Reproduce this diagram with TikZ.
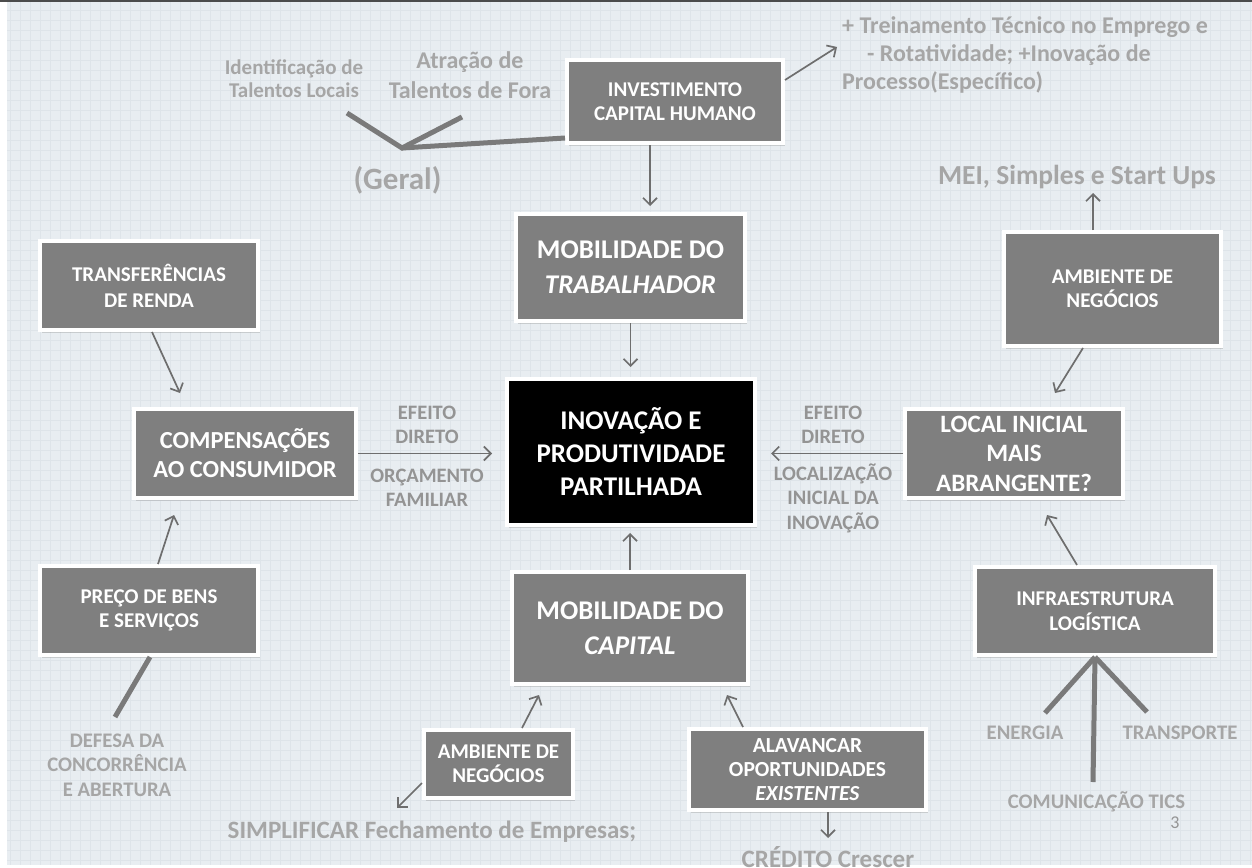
\documentclass[tikz,border=0pt]{standalone}
\usepackage{fontspec}
\setmainfont{Carlito}
\usetikzlibrary{shadows,arrows.meta}
\definecolor{bgc}{HTML}{E8EDF1}
\definecolor{gridc}{HTML}{DEE4E9}
\definecolor{boxg}{HTML}{7F7F7F}
\definecolor{lblc}{HTML}{A6A6A6}
\definecolor{lbld}{HTML}{949494}
\definecolor{arrc}{HTML}{6E6E6E}
\definecolor{thkc}{HTML}{7A7A7A}
\newcommand{\fsz}[2]{\fontsize{#1}{#2}\selectfont}
\tikzset{
  boxbase/.style={fill=boxg, draw=white, line width=4pt, text=white, align=center, inner sep=0pt,
    drop shadow={shadow xshift=2pt, shadow yshift=-3pt, opacity=0.3}},
  sbox/.style={boxbase, font=\fsz{21}{24.5}\bfseries},
  bbox/.style={boxbase, font=\fsz{27}{35}\bfseries},
  arr/.style={draw=arrc, line width=1.7pt, -{Straight Barb[length=7pt,width=14pt,line width=1.7pt]}},
  thk/.style={draw=thkc, line width=5pt},
  lbl/.style={text=lblc, align=center, inner sep=0pt, font=\fsz{20.7}{24.5}\bfseries},
  lbd/.style={text=lbld, align=center, inner sep=0pt, font=\fsz{20.5}{24.5}\bfseries},
}
\begin{document}
\begin{tikzpicture}[x=1pt,y=-1pt]
\useasboundingbox (0,0) rectangle (1252,867);
% background
\fill[white] (0,0) rectangle (1252,867);
\fill[bgc] (7,0) rectangle (1252,865);
\foreach \i in {10,20,...,1250} {\draw[gridc, line width=0.6pt] (\i,0) -- (\i,865);}
\foreach \j in {10,20,...,860} {\draw[gridc, line width=0.6pt] (7,\j) -- (1252,\j);}
\fill[black!70] (0,0) rectangle (1252,2);

% boxes
\node[sbox, minimum width=216pt, minimum height=83pt] (inv) at (675,101.5) {INVESTIMENTO\\CAPITAL HUMANO};
\node[bbox, minimum width=229pt, minimum height=107pt] (mobT) at (630.5,267.5) {MOBILIDADE DO\\\textit{TRABALHADOR}};
\node[sbox, minimum width=218pt, minimum height=89pt, font=\fsz{21}{26}\bfseries] (transf) at (149,285.5) {TRANSFER\^ENCIAS\\DE RENDA};
\node[sbox, minimum width=217pt, minimum height=114pt] (ambR) at (1112.5,289) {AMBIENTE DE\\NEG\'OCIOS};
\node[bbox, minimum width=222pt, minimum height=89pt, font=\fsz{24.5}{29}\bfseries] (comp) at (245,453.5) {COMPENSAÇÕES\\AO CONSUMIDOR};
\node[bbox, fill=black, minimum width=248pt, minimum height=146pt, font=\fsz{27}{33}\bfseries] (inov) at (631,452) {INOVAÇÃO E\\PRODUTIVIDADE\\PARTILHADA};
\node[bbox, minimum width=218pt, minimum height=89pt, font=\fsz{25}{29.5}\bfseries] (local) at (1014,453.5) {LOCAL INICIAL\\MAIS\\ABRANGENTE?};
\node[sbox, minimum width=218pt, minimum height=89pt] (preco) at (149,610.5) {PREÇO DE BENS\\E SERVIÇOS};
\node[bbox, minimum width=236pt, minimum height=112pt] (mobC) at (630,628) {MOBILIDADE DO\\\textit{CAPITAL}};
\node[sbox, minimum width=240pt, minimum height=88pt] (infra) at (1095,611) {INFRAESTRUTURA\\LOG\'ISTICA};
\node[sbox, minimum width=149pt, minimum height=68pt] (ambB) at (498.5,764) {AMBIENTE DE\\NEG\'OCIOS};
\node[sbox, minimum width=237pt, minimum height=81pt, font=\fsz{21.5}{24}\bfseries] (alav) at (807.5,769.5) {ALAVANCAR\\OPORTUNIDADES\\\textit{EXISTENTES}};

% labels
\node[lbl, font=\fsz{21}{23}\bfseries] (idt) at (294,79) {Identificação de\\Talentos Locais};
\node[lbl, font=\fsz{24}{30}\bfseries] (atr) at (470,75) {Atração de\\Talentos de Fora};
\node[lbl, font=\fsz{31}{34}\bfseries] (geral) at (397.5,180) {(Geral)};
\node[lbl, font=\fsz{24}{28}\bfseries, align=left, anchor=north west] (trein) at (842,16)
  {+ Treinamento Técnico no Emprego e\\\hspace*{25pt}- Rotatividade; +Inovação de\\Processo(Específico)};
\node[lbl, font=\fsz{27.5}{30}\bfseries] (mei) at (1077,177) {MEI, Simples e Start Ups};
\node[lbd] (efL) at (427,425) {EFEITO\\DIRETO};
\node[lbd] (orc) at (427,488) {ORÇAMENTO\\FAMILIAR};
\node[lbd] (efR) at (833,425) {EFEITO\\DIRETO};
\node[lbd] (locz) at (833,498) {LOCALIZAÇÃO\\INICIAL DA\\INOVAÇÃO};
\node[lbl] (defesa) at (117,765) {DEFESA DA\\CONCORRÊNCIA\\E ABERTURA};
\node[lbl, font=\fsz{25}{28}\bfseries] (simp) at (432,832) {SIMPLIFICAR Fechamento de Empresas;};
\node[lbl, font=\fsz{25}{28}\bfseries] (cred) at (828,857) {CRÉDITO Crescer};
\node[lbl] (energia) at (1025,733) {ENERGIA};
\node[lbl] (transp) at (1180,733) {TRANSPORTE};
\node[lbl] (comun) at (1096.5,802) {COMUNICAÇÃO TICS};
\node[text=lbld, inner sep=0pt, font=\fsz{18}{22}] (pnum) at (1175,823) {3};

% free ends
\coordinate (armL) at (347,113);
\coordinate (vtx) at (402,148);
\coordinate (armR) at (462,117);
\coordinate (defA) at (115,717);
\coordinate (enA) at (1045,713);
\coordinate (coA) at (1093,782);
\coordinate (trA) at (1147,712);
\coordinate (treinA) at (837,47);
\coordinate (meiA) at (1093,193);
\coordinate (simpA) at (397,808);

% thick lines
\draw[thk] (armL) -- (vtx) -- (armR);
\draw[thk] (vtx) -- ([yshift=-36.5pt]inv.west);
\draw[thk] ([xshift=1pt]preco.south) -- (defA);
\draw[thk] (infra.south) -- (enA);
\draw[thk] (infra.south) -- (coA);
\draw[thk] (infra.south) -- (trA);

% arrows
\draw[arr] ([xshift=-25pt]inv.south) -- ([xshift=19.5pt,yshift=6pt]mobT.north);
\draw[arr] ([yshift=21.5pt]inv.east) -- (treinA);
\draw[arr] (mobT.south) -- ([yshift=10pt]mobT.south |- inov.north);
\draw[arr] (mobC.north) -- ([yshift=-6pt]mobC.north |- inov.south);
\draw[arr] (comp.east) -- ([xshift=-13pt]inov.west |- comp.east);
\draw[arr] (local.west) -- ([xshift=14pt]inov.east |- local.west);
\draw[arr] ([xshift=3pt]transf.south) -- ([xshift=-65pt,yshift=14pt]comp.north);
\draw[arr] ([xshift=9pt]preco.north) -- ([xshift=-71pt,yshift=-15pt]comp.south);
\draw[arr] ([xshift=-19.5pt]ambR.north) -- (meiA);
\draw[arr] ([xshift=-29.5pt]ambR.south) -- ([xshift=41pt,yshift=14pt]local.north);
\draw[arr] ([xshift=-18pt]infra.north) -- ([xshift=33pt,yshift=-15pt]local.south);
\draw[arr] ([xshift=23.5pt]ambB.north) -- ([xshift=-91pt,yshift=-9pt]mobC.south);
\draw[arr] ([yshift=-19pt]ambB.west) -- (simpA);
\draw[arr] ([xshift=-64.5pt]alav.north) -- ([xshift=97pt,yshift=-9pt]mobC.south);
\draw[arr] ([xshift=20.5pt]alav.south) -- ([xshift=20.5pt,yshift=-26pt]alav.south);
\end{tikzpicture}
\end{document}
